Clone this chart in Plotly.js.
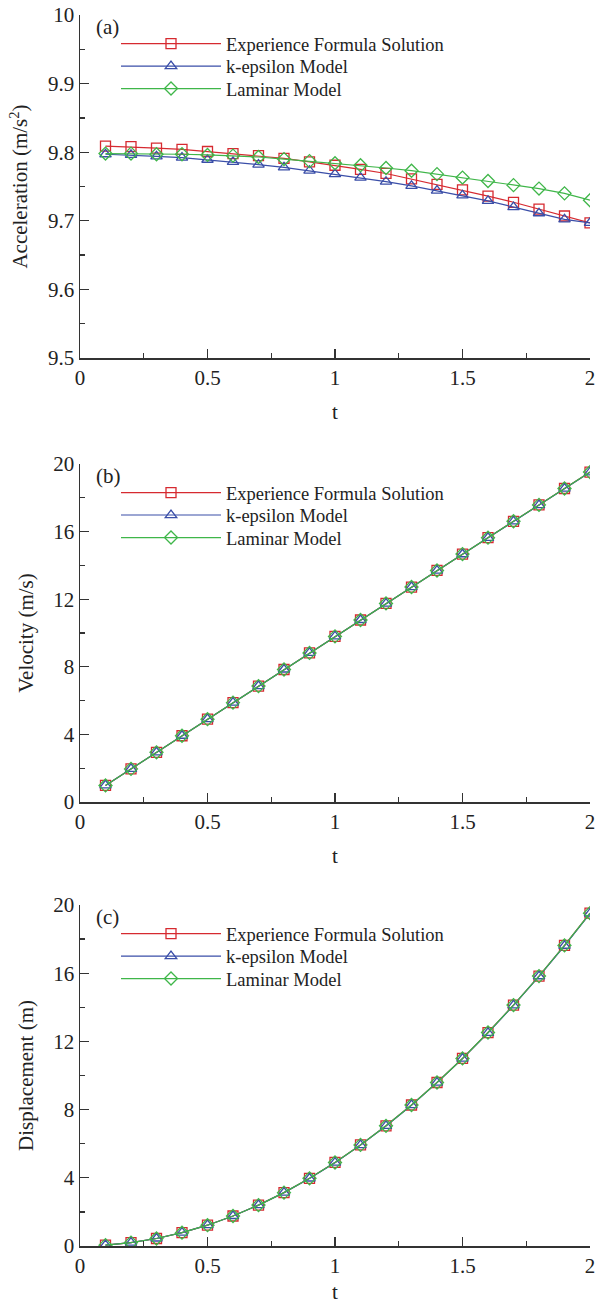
<!DOCTYPE html>
<html>
<head>
<meta charset="utf-8">
<script src="https://cdn.plot.ly/plotly-3.0.1.min.js"></script>
<style>html,body{margin:0;padding:0;background:#fff;}#chart{width:596px;height:1304px;}</style>
</head>
<body>
<div id="chart"></div>
<script>
// ---- data ----
var t = [0.1,0.2,0.3,0.4,0.5,0.6,0.7,0.8,0.9,1.0,1.1,1.2,1.3,1.4,1.5,1.6,1.7,1.8,1.9,2.0];
var seriesNames = ["Experience Formula Solution", "k-epsilon Model", "Laminar Model"];
var panelLabels = ["(a)", "(b)", "(c)"];
var yTitles = ["Acceleration (m/s<sup>2</sup>)", "Velocity (m/s)", "Displacement (m)"];

var accExp = [9.809,9.808,9.806,9.804,9.801,9.798,9.795,9.791,9.786,9.781,9.775,9.769,9.761,9.753,9.745,9.736,9.727,9.717,9.707,9.697];
var accKE  = [9.797,9.796,9.794,9.792,9.789,9.786,9.782,9.778,9.773,9.768,9.763,9.757,9.751,9.744,9.737,9.729,9.720,9.711,9.702,9.697];
var accLam = [9.798,9.798,9.797,9.797,9.796,9.795,9.793,9.790,9.787,9.784,9.781,9.777,9.773,9.768,9.763,9.758,9.752,9.747,9.740,9.730];

var velExp = [0.98,1.96,2.94,3.92,4.90,5.88,6.86,7.84,8.82,9.80,10.77,11.75,12.72,13.70,14.67,15.64,16.61,17.58,18.55,19.52];
var velKE  = [0.98,1.96,2.94,3.92,4.90,5.88,6.86,7.84,8.82,9.80,10.77,11.74,12.72,13.69,14.66,15.63,16.60,17.57,18.54,19.51];
var velLam = [0.98,1.96,2.94,3.92,4.90,5.88,6.86,7.84,8.82,9.80,10.77,11.75,12.72,13.70,14.67,15.64,16.61,17.58,18.55,19.52];

var disExp = [0.05,0.20,0.44,0.78,1.22,1.76,2.40,3.13,3.97,4.90,5.93,7.05,8.27,9.59,11.00,12.52,14.13,15.83,17.63,19.52];
var disKE  = [0.05,0.20,0.44,0.78,1.22,1.76,2.40,3.13,3.96,4.89,5.92,7.04,8.26,9.58,10.99,12.50,14.11,15.82,17.61,19.50];
var disLam = [0.05,0.20,0.44,0.78,1.22,1.76,2.40,3.13,3.97,4.90,5.93,7.05,8.27,9.59,11.00,12.52,14.13,15.83,17.63,19.52];

var yRanges = [[9.5,10],[0,20],[0,20]];
var yDticks = [0.1,4,4];

// ---- styling ----
var colors = ["#d62a30", "#3a4ea8", "#3fb649"];
var symbols = ["square-open", "triangle-up-open", "diamond-open"];
var FONT = "Liberation Serif";
var TXT = "#222";
var W = 596, H = 1304, ML = 80, MR = 6;
// pixel extents of each panel (top, bottom)
var panelPx = [[15,358],[464,802],[905,1246]];
// legend row centres below each panel top (px)
var legRows = [29, 51.5, 74];

var panels = [[accExp,accKE,accLam],[velExp,velKE,velLam],[disExp,disKE,disLam]];
var traces = [];
var layout = {
  width: W, height: H,
  margin: {l: ML, r: MR, t: 0, b: 0},
  paper_bgcolor: "#fff", plot_bgcolor: "#fff",
  font: {family: FONT, size: 21, color: TXT},
  showlegend: true,
  annotations: []
};

panels.forEach(function(p, i) {
  var n = i === 0 ? "" : String(i+1);
  var top = panelPx[i][0], bot = panelPx[i][1];
  p.forEach(function(ys, k) {
    var idx = i*3 + k + 1;
    var legName = idx === 1 ? "legend" : "legend" + idx;
    traces.push({
      x: t, y: ys, type: "scatter", mode: "lines+markers",
      name: seriesNames[k],
      xaxis: "x" + n, yaxis: "y" + n,
      legend: legName,
      line: {color: colors[k], width: 1.2},
      marker: {symbol: symbols[k], size: 10, color: colors[k], line: {width: 1.3, color: colors[k]}}
    });
    layout[legName] = {
      x: (121 - 5 - ML) / (W - ML - MR), xref: "paper", xanchor: "left",
      y: 1 - (top + legRows[k]) / H, yref: "paper", yanchor: "middle",
      bgcolor: "rgba(0,0,0,0)", borderwidth: 0,
      font: {family: FONT, size: 18.5, color: TXT},
      itemwidth: 100, tracegroupgap: 0
    };
  });
  var dom = [1 - bot/H, 1 - top/H];
  var axStyle = {
    showline: true, linecolor: "#333", linewidth: 1.5,
    ticks: "inside", ticklen: 9, tickwidth: 1.3, tickcolor: "#333",
    showgrid: false, zeroline: false, mirror: false,
    tickfont: {family: FONT, size: 21, color: TXT}
  };
  layout["xaxis" + n] = Object.assign({}, axStyle, {
    domain: [0,1], anchor: "y" + n, range: [0,2], dtick: 0.5, tick0: 0,
    minor: {dtick: 0.25, ticks: "inside", ticklen: 5, tickwidth: 1.3, tickcolor: "#333", showgrid: false},
    title: {text: "t", font: {family: FONT, size: 21, color: TXT}, standoff: 15}
  });
  layout["yaxis" + n] = Object.assign({}, axStyle, {
    domain: dom, anchor: "x" + n, range: yRanges[i], dtick: yDticks[i], tick0: 0,
    minor: {dtick: yDticks[i]/2, ticks: "inside", ticklen: 5, tickwidth: 1.3, tickcolor: "#333", showgrid: false},
    title: {text: yTitles[i], font: {family: FONT, size: 21, color: TXT}, standoff: 14}
  });
  layout.annotations.push({
    text: panelLabels[i], xref: "paper", yref: "paper",
    x: (94 - ML) / (W - ML - MR), y: 1 - (top + 12) / H,
    xanchor: "left", yanchor: "middle", showarrow: false,
    font: {family: FONT, size: 21, color: TXT}
  });
});

Plotly.newPlot("chart", traces, layout, {staticPlot: true});
</script>
</body>
</html>
